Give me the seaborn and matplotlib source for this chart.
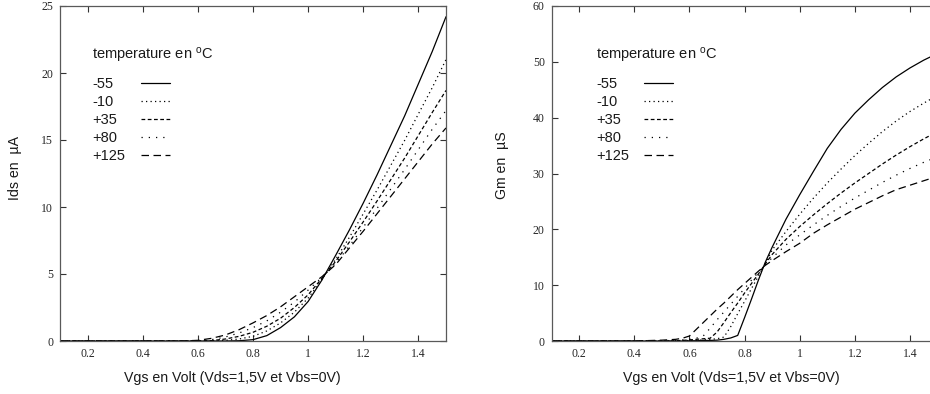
import matplotlib
matplotlib.use("Agg")
import matplotlib.pyplot as plt
import numpy as np
import pandas as pd
import seaborn as sns
from matplotlib.ticker import FuncFormatter, MultipleLocator

# ---------------- data ----------------
temps = ["-55", "-10", "+35", "+80", "+125"]

vgs_ids = [0.1, 0.2, 0.3, 0.4, 0.5, 0.55, 0.6, 0.65, 0.7, 0.75, 0.8, 0.85, 0.9,
           0.95, 1.0, 1.05, 1.1, 1.15, 1.2, 1.25, 1.3, 1.35, 1.4, 1.45, 1.5]
ids_m55 = [0, 0, 0, 0, 0, 0, 0, 0, 0, 0.02, 0.1, 0.4, 1.0, 1.8, 2.95, 4.55, 6.4,
           8.3, 10.3, 12.4, 14.6, 16.8, 19.2, 21.6, 24.2]
ids_m10 = [0, 0, 0, 0, 0, 0, 0, 0.01, 0.05, 0.15, 0.35, 0.75, 1.35, 2.15, 3.2,
           4.6, 6.1, 7.75, 9.5, 11.27, 13.12, 14.97, 16.95, 18.9, 21.0]
ids_p35 = [0, 0, 0, 0, 0, 0, 0.01, 0.03, 0.15, 0.35, 0.65, 1.1, 1.7, 2.5, 3.45,
           4.68, 5.95, 7.4, 8.9, 10.45, 12.05, 13.65, 15.35, 17.05, 18.7]
ids_p80 = [0, 0, 0, 0, 0, 0, 0.02, 0.1, 0.3, 0.6, 1.0, 1.5, 2.15, 2.9, 3.8,
           4.75, 5.8, 7.1, 8.5, 9.9, 11.35, 12.8, 14.3, 15.8, 17.2]
ids_p125 = [0, 0, 0, 0, 0, 0.01, 0.05, 0.2, 0.45, 0.85, 1.35, 1.9, 2.55, 3.3,
            4.05, 4.8, 5.7, 6.95, 8.2, 9.5, 10.8, 12.1, 13.4, 14.7, 15.9]

vgs_gm = [0.1, 0.2, 0.3, 0.4, 0.5, 0.55, 0.575, 0.6, 0.625, 0.65, 0.675, 0.7,
          0.725, 0.75, 0.775, 0.8, 0.825, 0.85, 0.875, 0.9, 0.95, 1.0, 1.05,
          1.1, 1.15, 1.2, 1.25, 1.3, 1.35, 1.4, 1.45, 1.5]
gm_m55 = [0, 0, 0, 0, 0, 0, 0, 0.05, 0.05, 0.1, 0.1, 0.15, 0.3, 0.55, 1.0, 4.2,
          7.5, 10.9, 14.1, 16.8, 21.8, 26.2, 30.4, 34.5, 37.9, 40.8, 43.2,
          45.4, 47.3, 48.9, 50.3, 51.5]
gm_m10 = [0, 0, 0, 0, 0, 0, 0.05, 0.1, 0.1, 0.2, 0.3, 0.4, 0.7, 2.6, 4.9, 7.1,
          9.4, 11.6, 13.85, 16.3, 19.6, 22.7, 25.6, 28.3, 30.8, 33.2, 35.4,
          37.5, 39.4, 41.1, 42.6, 44.0]
gm_p35 = [0, 0, 0, 0, 0, 0.05, 0.1, 0.2, 0.3, 0.4, 0.5, 1.6, 3.3, 5.1, 6.8, 8.6,
          10.3, 12.0, 13.8, 15.5, 18.2, 20.5, 22.6, 24.6, 26.5, 28.3, 30.0,
          31.7, 33.3, 34.8, 36.2, 37.5]
gm_p80 = [0, 0, 0, 0, 0.05, 0.1, 0.2, 0.3, 0.5, 0.9, 2.3, 3.8, 5.2, 6.6, 8.0,
          9.4, 10.9, 12.3, 13.7, 14.9, 17.2, 19.0, 20.8, 22.5, 24.1, 25.6,
          27.0, 28.4, 29.7, 30.9, 32.0, 33.0]
gm_p125 = [0, 0, 0, 0, 0.15, 0.3, 0.5, 0.9, 2.1, 3.3, 4.5, 5.7, 6.8, 8.0, 9.2,
           10.3, 11.4, 12.5, 13.55, 14.4, 16.0, 17.5, 19.3, 20.8, 22.2, 23.6,
           24.8, 26.0, 27.1, 27.9, 28.7, 29.5]

x_ticks = [0.2, 0.4, 0.6, 0.8, 1.0, 1.2, 1.4]

ids_series = [ids_m55, ids_m10, ids_p35, ids_p80, ids_p125]
gm_series = [gm_m55, gm_m10, gm_p35, gm_p80, gm_p125]

df_ids = pd.concat([pd.DataFrame({"Vgs": vgs_ids, "val": s, "T": t})
                    for s, t in zip(ids_series, temps)], ignore_index=True)
df_gm = pd.concat([pd.DataFrame({"Vgs": vgs_gm, "val": s, "T": t})
                   for s, t in zip(gm_series, temps)], ignore_index=True)

# ---------------- style ----------------
sns.set_theme(style="ticks")
plt.rcParams["font.family"] = ["Liberation Sans", "DejaVu Sans"]
plt.rcParams["mathtext.fontset"] = "custom"
plt.rcParams["mathtext.rm"] = "Liberation Sans"
plt.rcParams["mathtext.it"] = "Liberation Sans:italic"

dashes = {"-55": "", "-10": (1.0, 2.6), "+35": (3.0, 2.0),
          "+80": (1.0, 4.8), "+125": (6.0, 3.6)}
palette = {t: "black" for t in temps}

W, H = 930, 394
fig = plt.figure(figsize=(W / 100, H / 100), dpi=100)
ax1 = fig.add_axes([60 / W, 53 / H, 386 / W, 335 / H])
ax2 = fig.add_axes([551.7 / W, 53 / H, 385.8 / W, 335 / H])


def setup(ax, df, ymax, ystep, ylabel, ylab_x, ylab_y, xlab_x,
          txt_x, line_x):
    sns.lineplot(data=df, x="Vgs", y="val", hue="T", style="T",
                 hue_order=temps, style_order=temps, palette=palette,
                 dashes=dashes, estimator=None, sort=False, legend=False,
                 linewidth=0.9, ax=ax)
    ax.set_xlim(0.1, 1.5)
    ax.set_ylim(0, ymax)
    ax.set_xticks(x_ticks)
    ax.yaxis.set_major_locator(MultipleLocator(ystep))
    ax.xaxis.set_major_formatter(FuncFormatter(lambda v, p: "%g" % v))
    ax.yaxis.set_major_formatter(FuncFormatter(lambda v, p: "%g" % v))
    ax.tick_params(direction="in", top=True, right=True, length=4,
                   width=0.8, color="0.2", labelsize=8.5, pad=5,
                   labelcolor="0.15")
    for lbl in ax.get_xticklabels() + ax.get_yticklabels():
        lbl.set_fontfamily("Liberation Serif")
    for sp in ax.spines.values():
        sp.set_visible(True)
        sp.set_color("0.35")
        sp.set_linewidth(0.9)
    ax.set_xlabel("Vgs en Volt (Vds=1,5V et Vbs=0V)", fontsize=10.2,
                  color="0.1")
    ax.xaxis.label.set_va("center")
    ax.xaxis.set_label_coords(xlab_x, -0.11)
    ax.set_ylabel(ylabel, fontsize=10.2, color="0.1")
    ax.yaxis.label.set_va("center")
    ax.yaxis.set_label_coords(ylab_x, ylab_y)

    # legend header
    ax.text(txt_x, 0.853, "temperature en $^{\\mathrm{o}}$C",
            transform=ax.transAxes, ha="left", va="center", fontsize=10.5,
            color="0.1")
    lines = ax.get_lines()[:5]
    common = dict(loc="upper left", frameon=False, borderpad=0,
                  borderaxespad=0, labelspacing=0.27, fontsize=10.5)
    leg1 = ax.legend(handles=lines, labels=temps, handlelength=0,
                     handletextpad=0, bbox_to_anchor=(txt_x, 0.787), **common)
    for t in leg1.get_texts():
        t.set_color("0.1")
    ax.add_artist(leg1)
    leg2 = ax.legend(handles=lines, labels=temps, handlelength=2.0,
                     handletextpad=0, bbox_to_anchor=(line_x, 0.787), **common)
    for t in leg2.get_texts():
        t.set_alpha(0)


setup(ax1, df_ids, 25, 5, "Ids en  \u00b5A", -0.117, 0.516, 0.446,
      0.083, 0.21)
setup(ax2, df_gm, 60, 10, "Gm en  \u00b5S", -0.13, 0.525, 0.465,
      0.115, 0.239)

fig.savefig("out.png", dpi=100, facecolor="white")
